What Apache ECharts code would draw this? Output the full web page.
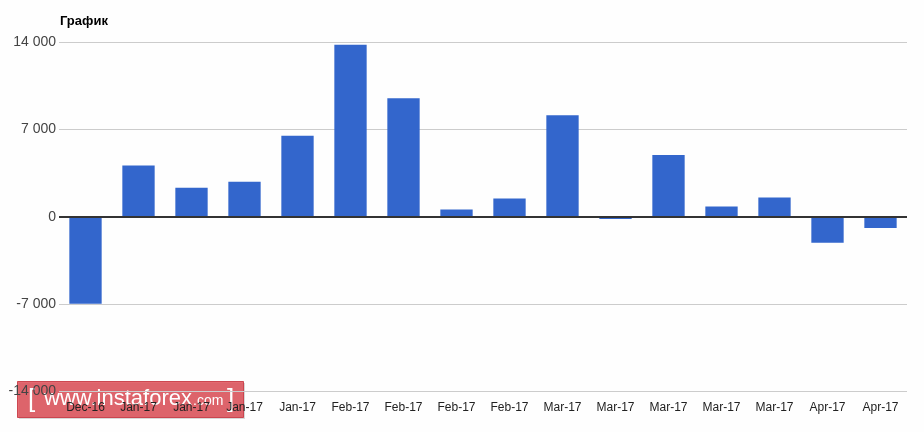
<!DOCTYPE html>
<html><head><meta charset="utf-8">
<script src="https://cdn.jsdelivr.net/npm/echarts@6/dist/echarts.min.js"></script>
<style>html,body{margin:0;padding:0;background:#fff}#c{width:924px;height:432px}</style>
</head><body><div id="c"></div>
<script>
const categories = ["Dec-16","Jan-17","Jan-17","Jan-17","Jan-17","Feb-17","Feb-17","Feb-17","Feb-17","Mar-17","Mar-17","Mar-17","Mar-17","Mar-17","Apr-17","Apr-17"];
const values = [-7000, 4100, 2330, 2800, 6500, 13800, 9500, 580, 1460, 8150, -190, 4950, 820, 1540, -2100, -910];
const yTicks = [-14000, -7000, 0, 7000, 14000];

const chart = echarts.init(document.getElementById('c'), null, {renderer:'canvas'});
chart.setOption({
  animation:false,
  backgroundColor:'#fefefe',
  title:{text:'График', left:55, top:10, textStyle:{fontFamily:'Arial, Liberation Sans', fontSize:13, fontWeight:'bold', color:'#000'}},
  grid:{left:59, right:17, top:42.3, bottom:41},
  xAxis:{type:'category', data:categories,
    axisLine:{show:false}, axisTick:{show:false},
    axisLabel:{interval:0, margin:11, fontFamily:'Arial, Liberation Sans', fontSize:12, color:'#222'}},
  yAxis:{type:'value', min:yTicks[0], max:yTicks[yTicks.length-1], interval:7000,
    axisLine:{show:false}, axisTick:{show:false},
    splitLine:{lineStyle:{color:'#cccccc', width:1}},
    axisLabel:{margin:3, fontFamily:'Arial, Liberation Sans', fontSize:14, color:'#444',
      formatter:v=>{const s=Math.abs(v).toString().replace(/\B(?=(\d{3})+(?!\d))/g,' ');return (v<0?'-':'')+s;}}},
  series:[{type:'bar', data:values, barWidth:'61%', itemStyle:{color:'#3366cc'},
    markLine:{silent:true, symbol:'none', label:{show:false}, lineStyle:{color:'#333', width:2, type:'solid'}, data:[{yAxis:0}]}}],
  graphic:[
    {type:'rect', left:19, top:383, shape:{width:226, height:36}, style:{fill:'rgba(0,0,0,0.15)'}},
    {type:'rect', left:17, top:381, shape:{width:226, height:36}, style:{fill:'rgba(222,78,86,0.84)', stroke:'rgba(200,60,70,0.9)', lineWidth:1}},
    {type:'text', left:28, top:387, style:{text:'[', fill:'#fff', font:'26px Arial'}},
    {type:'text', left:44, top:388, style:{text:'www.instaforex', fill:'#fff', font:'22px Arial'}},
    {type:'text', left:193, top:394, style:{text:'.com', fill:'#fff', font:'14px Arial'}},
    {type:'text', left:227, top:387, style:{text:']', fill:'#fff', font:'26px Arial'}}
  ]
});
</script></body></html>
